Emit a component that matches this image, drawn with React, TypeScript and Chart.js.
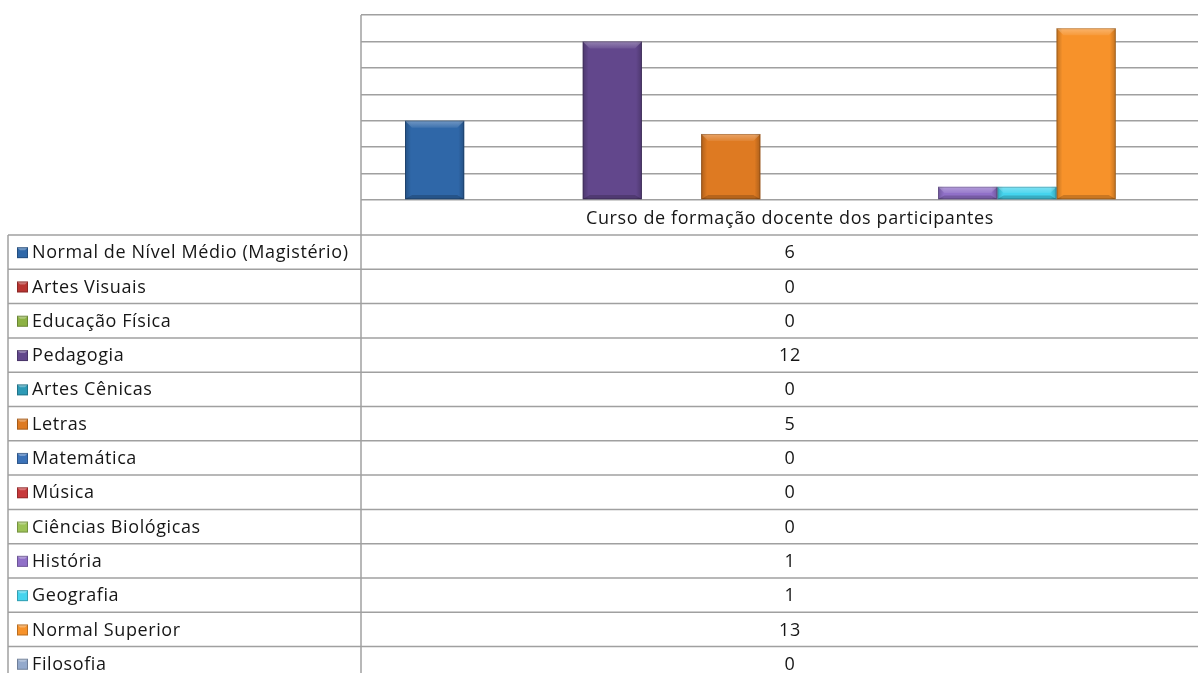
import React, { useEffect, useRef } from "react";
import { Chart, registerables } from "chart.js";

Chart.register(...registerables);

const courses = [
  "Normal de Nível Médio (Magistério)",
  "Artes Visuais",
  "Educação Física",
  "Pedagogia",
  "Artes Cênicas",
  "Letras",
  "Matemática",
  "Música",
  "Ciências Biológicas",
  "História",
  "Geografia",
  "Normal Superior",
  "Filosofia",
];
const counts = [6, 0, 0, 12, 0, 5, 0, 0, 0, 1, 1, 13, 0];
const colors = [
  "#2F67A8",
  "#B83431",
  "#8DB244",
  "#62478C",
  "#2D9AB6",
  "#DE7A22",
  "#3B72B8",
  "#C7383A",
  "#9CC256",
  "#9070C8",
  "#45D4EE",
  "#F7922A",
  "#93A9CC",
];
const categoryLabel = "Curso de formação docente dos participantes";
const yMax = 14;
const yStep = 2;

const FONT = "'Open Sans', sans-serif";
const W = 1219;
const H = 690;
const TABLE_TOP = 235;
const ROW_H = 34.3;

function setText(ctx: any) {
  ctx.font = `18px ${FONT}`;
  ctx.fillStyle = "#161616";
  ctx.textBaseline = "middle";
  try {
    ctx.letterSpacing = "0.6px";
  } catch (e) {}
}

const tablePlugin = {
  id: "dataTable",
  afterDatasetsDraw(chart: any) {
    const ctx = chart.ctx as CanvasRenderingContext2D;
    chart.data.datasets.forEach((ds: any, di: number) => {
      const meta = chart.getDatasetMeta(di);
      meta.data.forEach((el: any) => {
        const h = el.base - el.y;
        if (h <= 0.5) return;
        const l = el.x - el.width / 2;
        const r = el.x + el.width / 2;
        const t = el.y;
        const b = el.base;
        const bev = Math.min(7, h / 2);
        ctx.save();
        const g = ctx.createLinearGradient(l, 0, r, 0);
        g.addColorStop(0, "rgba(0,0,0,0.22)");
        g.addColorStop(0.1, "rgba(0,0,0,0)");
        g.addColorStop(0.9, "rgba(0,0,0,0)");
        g.addColorStop(1, "rgba(0,0,0,0.22)");
        ctx.fillStyle = g;
        ctx.fillRect(l, t, r - l, b - t);
        const tg = ctx.createLinearGradient(0, t, 0, t + bev);
        tg.addColorStop(0, "rgba(255,255,255,0.32)");
        tg.addColorStop(1, "rgba(255,255,255,0.08)");
        ctx.beginPath();
        ctx.moveTo(l, t);
        ctx.lineTo(r, t);
        ctx.lineTo(r - bev, t + bev);
        ctx.lineTo(l + bev, t + bev);
        ctx.closePath();
        ctx.fillStyle = tg;
        ctx.fill();
        ctx.beginPath();
        ctx.moveTo(l, b);
        ctx.lineTo(r, b);
        ctx.lineTo(r - bev, b - bev * 0.6);
        ctx.lineTo(l + bev, b - bev * 0.6);
        ctx.closePath();
        ctx.fillStyle = "rgba(0,0,0,0.18)";
        ctx.fill();
        ctx.strokeStyle = "rgba(0,0,0,0.2)";
        ctx.lineWidth = 1;
        ctx.strokeRect(l + 0.5, t + 0.5, r - l - 1, b - t - 1);
        ctx.restore();
      });
    });
  },
  afterDraw(chart: any) {
    const ctx = chart.ctx as CanvasRenderingContext2D;
    const area = chart.chartArea;
    const xScale = chart.scales.x;
    const cx = xScale.getPixelForValue(0);
    ctx.save();
    ctx.strokeStyle = "#a0a0a0";
    ctx.lineWidth = 1.5;
    ctx.beginPath();
    ctx.moveTo(area.left, area.top);
    ctx.lineTo(area.left, H);
    ctx.stroke();
    ctx.beginPath();
    ctx.moveTo(8, TABLE_TOP);
    ctx.lineTo(8, H);
    ctx.stroke();
    for (let i = 0; i <= courses.length; i++) {
      const y = TABLE_TOP + i * ROW_H;
      ctx.beginPath();
      ctx.moveTo(8, y);
      ctx.lineTo(W, y);
      ctx.stroke();
    }
    setText(ctx);
    ctx.textAlign = "center";
    ctx.fillText(categoryLabel, cx, (area.bottom + TABLE_TOP) / 2 + 1);
    courses.forEach((name, i) => {
      const yMid = TABLE_TOP + i * ROW_H + ROW_H / 2;
      const col = colors[i];
      const kx = 17, ks = 11, ky = yMid - ks / 2 + 0.5;
      ctx.fillStyle = col;
      ctx.fillRect(kx, ky, ks, ks);
      ctx.fillStyle = "rgba(255,255,255,0.3)";
      ctx.beginPath();
      ctx.moveTo(kx, ky);
      ctx.lineTo(kx + ks, ky);
      ctx.lineTo(kx + ks - 3, ky + 3);
      ctx.lineTo(kx + 3, ky + 3);
      ctx.closePath();
      ctx.fill();
      ctx.strokeStyle = "rgba(0,0,0,0.25)";
      ctx.lineWidth = 1;
      ctx.strokeRect(kx + 0.5, ky + 0.5, ks - 1, ks - 1);
      setText(ctx);
      ctx.textAlign = "left";
      ctx.fillText(name, 32, yMid + 1);
      ctx.textAlign = "center";
      ctx.fillText(String(counts[i]), cx, yMid + 1);
    });
    ctx.restore();
  },
};

export default function App() {
  const ref = useRef<HTMLCanvasElement>(null);
  useEffect(() => {
    if (!ref.current) return;
    const chart = new Chart(ref.current, {
      type: "bar",
      data: {
        labels: [categoryLabel],
        datasets: courses.map((name, i) => ({
          label: name,
          data: [counts[i]],
          backgroundColor: colors[i],
          borderWidth: 0,
          categoryPercentage: 0.8974,
          barPercentage: 1,
        })),
      },
      options: {
        responsive: false,
        animation: false,
        layout: { padding: { left: 361, top: 15, right: 0, bottom: H - 200 } },
        plugins: { legend: { display: false }, tooltip: { enabled: false } },
        scales: {
          x: { display: false },
          y: {
            min: 0,
            max: yMax,
            ticks: { display: false, stepSize: yStep },
            grid: { color: "#a0a0a0", lineWidth: 1.5, drawTicks: false },
            border: { display: false },
          },
        },
      },
      plugins: [tablePlugin],
    });
    return () => chart.destroy();
  }, []);
  return (
    <div
      style={{
        position: "fixed",
        left: 0,
        top: 0,
        width: 1198,
        height: 673,
        overflow: "hidden",
        background: "#fff",
      }}
    >
      <canvas ref={ref} width={W} height={H} style={{ width: W, height: H, display: "block" }} />
    </div>
  );
}
